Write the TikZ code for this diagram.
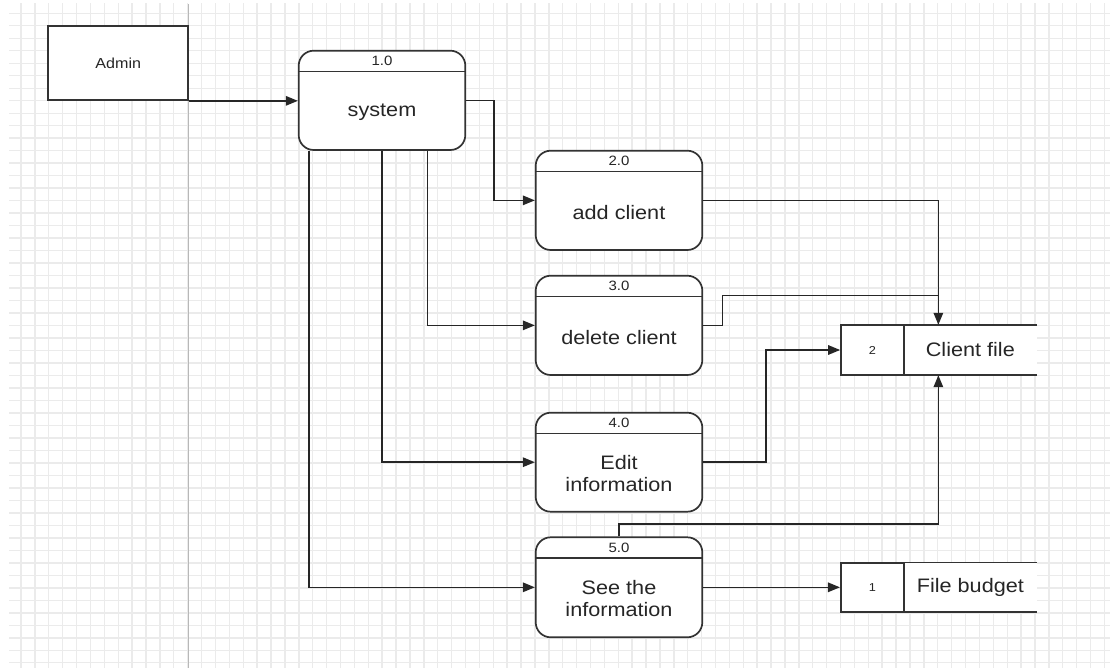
\documentclass[tikz,border=0pt]{standalone}
\usepackage{fontspec}
\setmainfont{Liberation Sans}[FakeStretch=1.11]
\usetikzlibrary{arrows.meta,calc}
\begin{document}
\begin{tikzpicture}[x=1pt,y=-1pt,
  gridline/.style={draw=black!8, line width=1.4pt},
  box/.style={draw=black!80, line width=1.7pt, fill=white, rectangle, inner sep=0pt},
  edge/.style={draw=black!80, line width=1.7pt},
  proc/.style={box, rounded corners=15pt, minimum width=166.6pt, minimum height=99.3pt},
  big/.style={font=\fontsize{19.5}{22}\selectfont, align=center, inner sep=0pt, text=black!85},
  num/.style={font=\fontsize{13.5}{15}\selectfont, inner sep=0pt, text=black!85},
  small/.style={font=\fontsize{11.5}{13}\selectfont, text=black!85},
  flow/.style={draw=black!85, line width=1.5pt, -{Triangle[length=12pt,width=9.5pt]}},
  conn/.style={draw=black!85, line width=1.5pt}
]
\useasboundingbox (0,0) rectangle (1110,668);
% grid
\begin{scope}
  \clip (9,4) rectangle (1110,668);
  \foreach \k in {-1,...,78} \draw[gridline] ({21+13.89*\k},0) -- ({21+13.89*\k},668);
  \foreach \k in {0,...,52} \draw[gridline] (0,{13.3+12.49*\k}) -- (1110,{13.3+12.49*\k});
\end{scope}
\draw[draw=black!28, line width=1.3pt] (188.3,4) -- (188.3,668);

% external entity
\node[box, minimum width=140pt, minimum height=74.3pt, font=\fontsize{14.5}{16}\selectfont, text=black!85] (admin) at (118.3,62.85) {Admin};

% processes
\node[proc] (p1) at (382,100.35) {};
\node[proc] (p2) at (619,200.35) {};
\node[proc] (p3) at (619,325.35) {};
\node[proc, minimum height=99pt] (p4) at (619,462.2) {};
\node[proc, minimum height=100pt] (p5) at (619,587.3) {};
\foreach \p in {p1,p2,p3,p4,p5}
  \draw[edge] ([yshift=-21.6pt]\p.north west) -- ([yshift=-21.6pt]\p.north east);

\node[num] (p1n) at ([yshift=-11.2pt]p1.north) {1.0};
\node[big] (p1t) at ([yshift=-12.3pt]p1.center) {system};
\node[num] (p2n) at ([yshift=-11.2pt]p2.north) {2.0};
\node[big] (p2t) at ([yshift=-12.3pt]p2.center) {add client};
\node[num] (p3n) at ([yshift=-11.2pt]p3.north) {3.0};
\node[big] (p3t) at ([yshift=-12.3pt]p3.center) {delete client};
\node[num] (p4n) at ([yshift=-11.2pt]p4.north) {4.0};
\node[big] (p4t) at ([yshift=-11.5pt]p4.center) {Edit\\information};
\node[num] (p5n) at ([yshift=-11.2pt]p5.north) {5.0};
\node[big] (p5t) at ([yshift=-11.5pt]p5.center) {See the\\information};

% data stores
\node[big, fill=white, minimum width=132.7pt, minimum height=50pt] (cf) at (970.35,350) {Client file};
\draw[edge] (cf.north west) -- (cf.north east) (cf.south west) -- (cf.south east);
\node[box, small, minimum width=63pt, minimum height=50pt] (cfn) at (872.5,350) {2};

\node[big, fill=white, minimum width=132.7pt, minimum height=49pt] (fb) at (970.35,587.2) {File budget};
\draw[edge] (fb.north west) -- (fb.north east) (fb.south west) -- (fb.south east);
\node[box, small, minimum width=63pt, minimum height=49pt] (fbn) at (872.3,587.2) {1};

% connectors
\coordinate (cfin) at ([xshift=-32pt]cf.north);
\coordinate (cfbot) at ([xshift=-32pt]cf.south);
\draw[flow] (admin.south east) -- (admin.south east -| p1.west);
\draw[flow] (p1.east) -- ++(27.6,0) |- (p2.west);
\draw[flow] ([xshift=-73pt]p1.south) |- (p5.west);
\draw[flow] (p1.south) |- (p4.west);
\draw[flow] ([xshift=45.3pt]p1.south) |- (p3.west);
\draw[flow] (p2.east) -| (cfin);
\draw[conn] (p3.east) -- ++(19.4,0) |- (cfin |- 0,295.7);
\draw[flow] (p4.east) -- ++(62.6,0) |- (cfn.west);
\draw[flow] (p5.north) -- ++(0,-12.3) -| (cfbot);
\draw[flow] (p5.east) -- (p5.east -| fbn.west);
\end{tikzpicture}
\end{document}
